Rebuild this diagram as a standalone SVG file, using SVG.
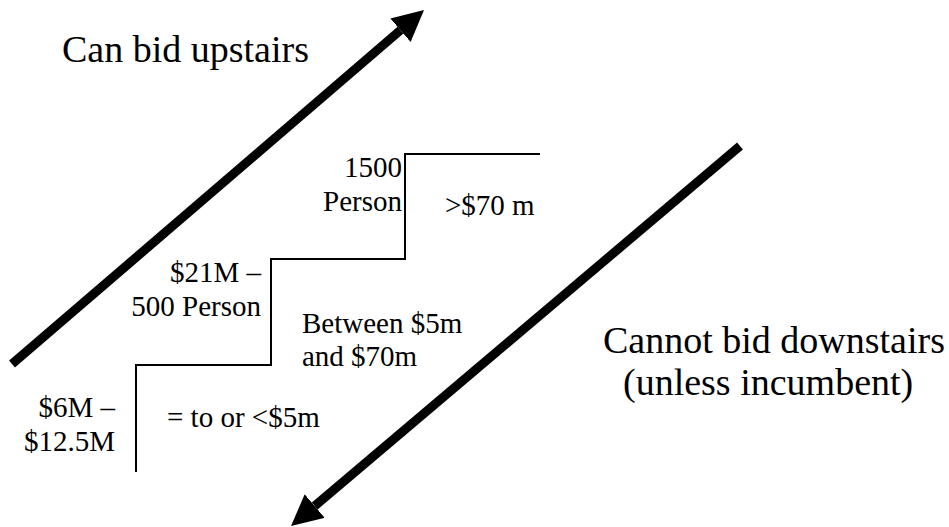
<svg xmlns="http://www.w3.org/2000/svg" width="949" height="527" viewBox="0 0 949 527">
<style>
text{font-family:'Liberation Serif',Tinos,'Times New Roman',Times,'DejaVu Serif','Noto Serif',serif;fill:#000}
.s{font-size:29px}
.l{font-size:38px}
.e{text-anchor:end}
.arrow{stroke:#000;stroke-width:9;fill:none;stroke-linecap:butt}
.stair{stroke:#000;stroke-width:2;fill:none}
</style>
<defs>
<marker id="head" markerUnits="userSpaceOnUse" viewBox="0 0 31 31" refX="0" refY="15.5" markerWidth="31" markerHeight="31" orient="auto">
<path d="M0,0 L31,15.5 L0,31 z" fill="#000"/>
</marker>
</defs>
<g id="connectors">
<line id="up-arrow" class="arrow" x1="12" y1="364" x2="400.5" y2="30.2" marker-end="url(#head)"/>
<line id="down-arrow" class="arrow" x1="740" y1="146" x2="314.7" y2="506" marker-end="url(#head)"/>
</g>
<g id="staircase">
<polyline class="stair" points="540,154 405,154 405,259 271,259 271,365 136,365 136,472"/>
</g>
<g id="label-up"><text class="l" x="62" y="62" font-family="Liberation Serif, serif">Can bid upstairs</text></g>
<g id="label-down">
<text class="l" x="603" y="353">Cannot bid downstairs</text>
<text class="l" x="623" y="395">(unless incumbent)</text>
</g>
<g id="step-top">
<text class="s e" x="402" y="177">1500</text>
<text class="s e" x="402" y="211">Person</text>
<text class="s" x="445" y="215">&gt;$70 m</text>
</g>
<g id="step-mid">
<text class="s e" x="261" y="282">$21M –</text>
<text class="s e" x="261" y="316">500 Person</text>
<text class="s" x="302" y="333">Between $5m</text>
<text class="s" x="302" y="366">and $70m</text>
</g>
<g id="step-low">
<text class="s e" x="115" y="417">$6M –</text>
<text class="s e" x="115" y="451">$12.5M</text>
<text class="s" x="167" y="427">= to or &lt;$5m</text>
</g>
</svg>
